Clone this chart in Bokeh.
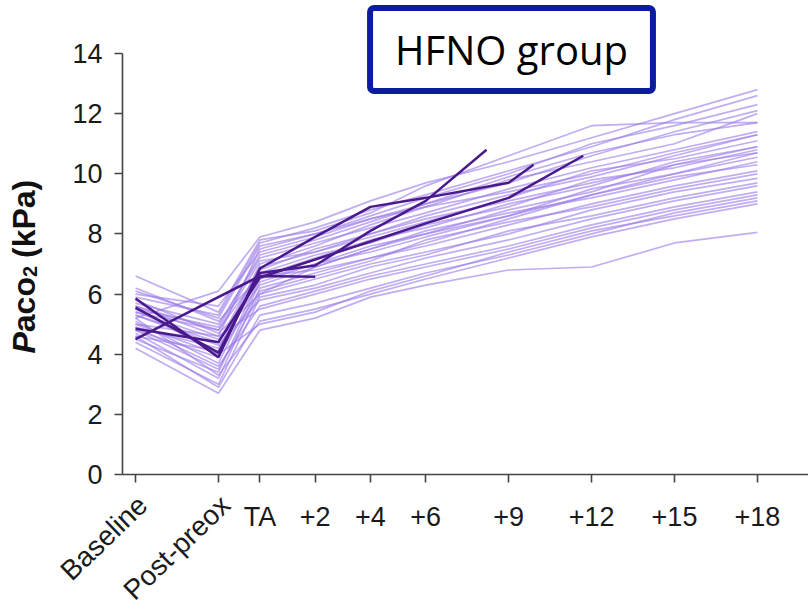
import math
from bokeh.plotting import figure
from bokeh.models import FixedTicker, Label, Range1d
from bokeh.embed import file_html
from bokeh.resources import INLINE

# ---- data -------------------------------------------------------------
time_labels = ["Baseline", "Post-preox", "TA", "+2", "+4", "+6", "+9", "+12", "+15", "+18"]
time_pos = [-4.5, -1.5, 0, 2, 4, 6, 9, 12, 15, 18]
y_ticks = [0, 2, 4, 6, 8, 10, 12, 14]

# light (completed) patients: Baseline, Post-preox, TA, +2, +4, +6, +9, +12, +15, +18
l01 = [5.2, 6.1, 7.9, 8.4, 9.1, 9.7, 10.4, 11.2, 12.0, 12.8]
l02 = [5.9, 5.3, 7.7, 8.2, 8.8, 9.3, 10.1, 10.9, 11.8, 12.6]
l03 = [5.0, 4.6, 7.5, 8.0, 8.6, 9.2, 10.0, 11.0, 11.6, 12.3]
l04 = [6.6, 5.4, 7.8, 8.1, 8.7, 9.6, 10.6, 11.6, 11.7, 11.7]
l05 = [5.5, 4.9, 7.3, 7.8, 8.4, 9.0, 9.7, 10.6, 11.4, 12.1]
l06 = [4.6, 4.1, 7.0, 7.6, 8.3, 8.9, 9.8, 10.4, 11.0, 12.0]
l07 = [5.7, 5.0, 7.2, 7.7, 8.2, 8.7, 9.5, 10.2, 10.8, 11.4]
l08 = [6.0, 5.6, 7.4, 7.9, 8.5, 8.9, 9.4, 10.0, 10.7, 11.3]
l09 = [4.8, 3.9, 6.8, 7.5, 8.0, 8.6, 9.3, 9.9, 10.6, 11.3]
l10 = [5.3, 4.4, 6.9, 7.4, 7.9, 8.4, 9.2, 10.1, 10.5, 11.1]
l11 = [4.9, 4.2, 6.6, 7.2, 7.8, 8.2, 9.0, 9.6, 10.4, 10.9]
l12 = [5.6, 4.8, 6.7, 7.3, 7.7, 8.3, 8.9, 9.8, 10.2, 10.8]
l13 = [5.1, 3.7, 6.5, 7.0, 7.6, 8.0, 8.8, 9.4, 10.3, 10.7]
l14 = [4.5, 3.4, 6.4, 7.0, 7.4, 7.9, 8.6, 9.5, 10.0, 10.55]
l15 = [5.4, 4.5, 6.3, 6.9, 7.5, 8.1, 8.7, 9.2, 9.8, 10.4]
l16 = [6.2, 5.1, 6.6, 6.8, 7.2, 7.7, 8.5, 9.3, 9.9, 10.3]
l17 = [4.7, 3.2, 6.2, 6.7, 7.2, 7.6, 8.3, 9.0, 9.6, 10.1]
l18 = [5.0, 4.0, 6.1, 6.6, 7.1, 7.8, 8.4, 8.9, 9.5, 10.0]
l19 = [5.8, 4.7, 6.0, 6.5, 7.0, 7.4, 8.0, 8.8, 9.4, 9.85]
l20 = [4.4, 3.0, 5.9, 6.3, 6.9, 7.3, 8.1, 8.6, 9.2, 9.7]
l21 = [5.3, 4.3, 5.8, 6.2, 6.7, 7.2, 7.8, 8.5, 9.1, 9.6]
l22 = [4.9, 3.6, 5.6, 6.1, 6.6, 7.0, 7.6, 8.3, 8.9, 9.4]
l23 = [5.6, 4.6, 5.5, 6.0, 6.5, 6.9, 7.5, 8.2, 8.8, 9.3]
l24 = [4.6, 2.9, 5.3, 5.7, 6.2, 6.7, 7.3, 8.0, 8.7, 9.2]
l25 = [5.2, 3.3, 5.1, 5.5, 6.0, 6.5, 7.2, 7.9, 8.5, 9.0]
l26 = [4.2, 2.7, 4.8, 5.2, 5.9, 6.3, 6.8, 6.9, 7.7, 8.05]
l27 = [5.5, 4.0, 5.0, 5.4, 6.1, 6.6, 7.4, 8.1, 8.6, 9.1]
l28 = [6.1, 5.2, 7.6, 8.0, 8.5, 9.0, 9.9, 10.7, 11.3, 11.7]
l29 = [5.4, 4.8, 7.1, 7.4, 8.0, 8.5, 9.1, 9.7, 10.3, 10.9]
l30 = [4.8, 3.5, 6.0, 6.9, 7.5, 8.0, 8.6, 9.3, 10.0, 10.7]
light_series = [l01, l02, l03, l04, l05, l06, l07, l08, l09, l10,
                l11, l12, l13, l14, l15, l16, l17, l18, l19, l20,
                l21, l22, l23, l24, l25, l26, l27, l28, l29, l30]

# dark (terminated early) patients: own time points
dark_a_t = [-4.5, 0, 2]
dark_a_v = [4.5, 6.6, 6.58]
dark_b_t = [-4.5, -1.5, 0, 2, 4, 6, 9, 9.9]
dark_b_v = [5.85, 3.9, 6.85, 7.9, 8.9, 9.2, 9.7, 10.3]
dark_c_t = [-4.5, -1.5, 0, 2, 4, 6, 8.2]
dark_c_v = [5.55, 4.05, 6.7, 6.95, 8.1, 9.1, 10.8]
dark_d_t = [-4.5, -1.5, 0, 2, 4, 6, 9, 11.7]
dark_d_v = [4.85, 4.4, 6.55, 7.15, 7.75, 8.35, 9.2, 10.6]
dark_series = [(dark_a_t, dark_a_v), (dark_b_t, dark_b_v),
               (dark_c_t, dark_c_v), (dark_d_t, dark_d_v)]

# ---- geometry: the frame covers the whole canvas, axes are fixed inside ----
W, H = 808, 613
AXIS_X_PX, AXIS_Y_PX = 122, 474   # where the y axis and x axis lines sit
PX_PER_MIN = 27.64                # horizontal scale
PX_PER_KPA = 30.07                # vertical scale
TA_PX = 259.4                     # pixel column of time 0

X0 = -TA_PX / PX_PER_MIN
X1 = (W - TA_PX) / PX_PER_MIN
Y0 = -(H - AXIS_Y_PX) / PX_PER_KPA
Y1 = AXIS_Y_PX / PX_PER_KPA


def dx(px):
    return (px - TA_PX) / PX_PER_MIN


def dy(py):
    return (AXIS_Y_PX - py) / PX_PER_KPA


p = figure(width=W, height=H, output_backend="svg", toolbar_location=None,
           x_range=Range1d(X0, X1), y_range=Range1d(Y0, Y1), title=None,
           min_border_left=0, min_border_right=0,
           min_border_top=0, min_border_bottom=0)
p.outline_line_color = None
p.xgrid.visible = False
p.ygrid.visible = False
p.background_fill_color = "white"
p.border_fill_color = "white"

LIGHT = "#9b7be8"
DARK = "#4a1a8c"

for s in light_series:
    p.line(time_pos, s, line_color=LIGHT, line_alpha=0.62, line_width=1.7)
for t, v in dark_series:
    p.line(t, v, line_color=DARK, line_alpha=1.0, line_width=2.5)

# ---- axes ---------------------------------------------------------------
AX = "#444444"
for ax in (p.xaxis[0], p.yaxis[0]):
    ax.axis_line_color = AX
    ax.axis_line_width = 1.6
    ax.major_tick_line_color = AX
    ax.major_tick_line_width = 1.6
    ax.major_tick_out = 8
    ax.major_tick_in = 0
    ax.minor_tick_out = 0
    ax.minor_tick_in = 0
    ax.major_label_text_font = "Liberation Sans"
    ax.major_label_text_font_size = "27px"
    ax.major_label_text_color = "#1a1a1a"

x_axis_start = dx(AXIS_X_PX)
p.yaxis.fixed_location = x_axis_start
p.yaxis.bounds = (y_ticks[0], y_ticks[-1])
p.yaxis.ticker = FixedTicker(ticks=y_ticks)
p.yaxis.major_label_standoff = 12

p.xaxis.fixed_location = 0
p.xaxis.bounds = (x_axis_start, X1)
p.xaxis.ticker = FixedTicker(ticks=time_pos)
overrides = {}
for pos, lab in zip(time_pos, time_labels):
    overrides[pos] = "" if pos < 0 else lab
p.xaxis.major_label_overrides = overrides
p.xaxis.major_label_standoff = 19

# rotated category labels
for pos, lab in zip(time_pos, time_labels):
    if pos < 0:
        p.add_layout(Label(x=pos + 7 / PX_PER_MIN, y=dy(500), text=lab,
                           angle=math.radians(44), text_align="right",
                           text_baseline="middle",
                           text_font="Liberation Sans", text_font_size="28px",
                           text_color="#1a1a1a"))

# y-axis label: Paco2 (kPa), built from pieces (italic P, subscript 2)
ystart = 353
YL_X = 23
parts = [("P", "bold italic", 32, 0, 21.3),
         ("aco", "bold", 32, 0, 55.1),
         ("2", "bold", 20, 6, 11.1 + 8),
         ("(kPa)", "bold", 32, 0, 78.2)]
cur = ystart
for txt, style, size, shift, w in parts:
    p.add_layout(Label(x=dx(YL_X + shift), y=dy(cur), text=txt, angle=math.pi / 2,
                       text_align="left", text_baseline="alphabetic",
                       text_font="Liberation Sans", text_font_style=style,
                       text_font_size=f"{size}px", text_color="#111111"))
    cur -= w

# title box
p.add_layout(Label(x=dx(511), y=dy(49), text="HFNO group",
                   text_align="center", text_baseline="middle",
                   text_font="Open Sans", text_font_size="40px", text_color="#000000",
                   border_line_color="#0b1d9e", border_line_width=6,
                   background_fill_color="white",
                   padding=dict(left=25, right=25, top=14, bottom=14),
                   border_radius=4))

open("out.html", "w").write(file_html(p, INLINE))
